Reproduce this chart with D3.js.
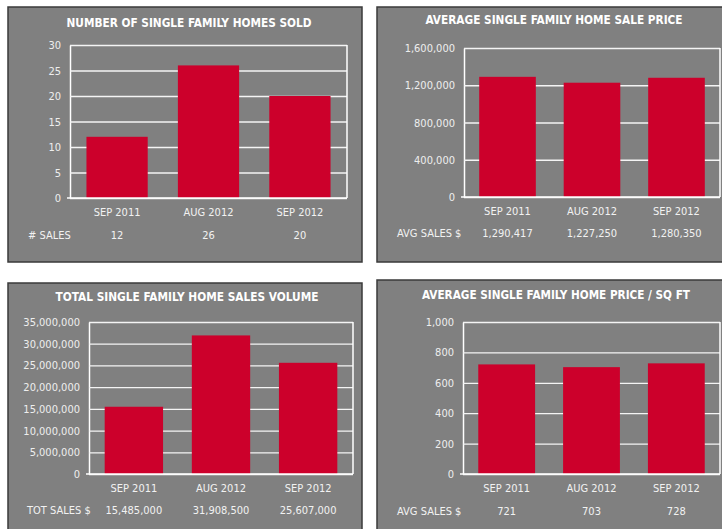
<!DOCTYPE html>
<html lang="en">
<head>
<meta charset="utf-8">
<title>Single family home sales</title>
<script src="https://cdn.jsdelivr.net/npm/d3@7"></script>
<style>
  body { margin: 0; background: #ffffff; }
  text { font-family: "DejaVu Sans Condensed", "DejaVu Sans", sans-serif; font-stretch: condensed; fill: #f2f2f2; }
  .title { font-weight: bold; font-size: 13px; fill: #ffffff; }
  .tick text { font-size: 11px; fill: #eeeeee; }
  .lbl { font-size: 11px; }
</style>
</head>
<body>
<script>
// months shown on every chart
var months = ["SEP 2011", "AUG 2012", "SEP 2012"];

// series values
var homesSold = [12, 26, 20];
var avgSalePrice = [1290417, 1227250, 1280350];
var totalVolume = [15485000, 31908500, 25607000];
var pricePerSqft = [721, 703, 728];

// y tick labels
var soldTicks = [0, 5, 10, 15, 20, 25, 30];
var priceTicks = [0, 400000, 800000, 1200000, 1600000];
var volumeTicks = [0, 5000000, 10000000, 15000000, 20000000, 25000000, 30000000, 35000000];
var sqftTicks = [0, 200, 400, 600, 800, 1000];

var titles = [
  "NUMBER OF SINGLE FAMILY HOMES SOLD",
  "AVERAGE SINGLE FAMILY HOME SALE PRICE",
  "TOTAL SINGLE FAMILY HOME SALES VOLUME",
  "AVERAGE SINGLE FAMILY HOME PRICE / SQ FT"
];
var rowLabels = ["# SALES", "AVG SALES $", "TOT SALES $", "AVG SALES $"];

var w = 722, h = 529;
var svg = d3.select("body").append("svg").attr("width", w).attr("height", h);
var fmt = d3.format(",");

// layout of the four boxes
var panels = [
  { box: [8, 7, 354, 255], plot: [70, 45, 347, 198], title: [189, 27, 245], cat: 216, val: 239, row: 28,
    values: homesSold, ticks: soldTicks },
  { box: [377, 7, 360, 255], plot: [464, 48, 720, 197], title: [554, 24, 257], cat: 215, val: 237, row: 397,
    values: avgSalePrice, ticks: priceTicks },
  { box: [8, 283, 354, 260], plot: [89, 322, 353, 474], title: [187, 301, 263], cat: 492, val: 514, row: 27,
    values: totalVolume, ticks: volumeTicks },
  { box: [377, 280, 360, 260], plot: [463, 322, 720, 474], title: [556, 299, 268], cat: 492, val: 515, row: 397,
    values: pricePerSqft, ticks: sqftTicks }
];

panels.forEach(function(p, i) {
  var g = svg.append("g");

  g.append("rect")
    .attr("x", p.box[0]).attr("y", p.box[1])
    .attr("width", p.box[2]).attr("height", p.box[3])
    .attr("fill", "#808080")
    .attr("stroke", "#3a3a3a")
    .attr("stroke-width", 1.5);

  g.append("text")
    .attr("class", "title")
    .attr("x", p.title[0]).attr("y", p.title[1])
    .attr("text-anchor", "middle")
    .attr("textLength", p.title[2])
    .attr("lengthAdjust", "spacingAndGlyphs")
    .text(titles[i]);

  var left = p.plot[0], top = p.plot[1], right = p.plot[2], bottom = p.plot[3];

  var x = d3.scaleBand().domain(months).range([left, right])
    .paddingInner(0.33).paddingOuter(0.18);
  var y = d3.scaleLinear().domain([0, d3.max(p.ticks)]).range([bottom, top]);

  // gridlines + tick labels
  var axis = g.append("g")
    .attr("transform", "translate(" + left + ",0)")
    .call(d3.axisLeft(y).tickValues(p.ticks).tickFormat(fmt)
      .tickSize(-(right - left)).tickSizeOuter(0).tickPadding(9));
  axis.selectAll("line").attr("stroke", "#f4f4f4").attr("stroke-width", 1.3);
  axis.select(".domain").attr("stroke", "#ffffff").attr("stroke-width", 1.5);
  axis.selectAll("text").attr("fill", "#eeeeee").style("font-size", "11px");

  // right side of the frame
  g.append("line")
    .attr("x1", right).attr("x2", right)
    .attr("y1", top).attr("y2", bottom)
    .attr("stroke", "#ffffff").attr("stroke-width", 1.5);

  g.selectAll("rect.bar")
    .data(p.values)
    .enter().append("rect")
    .attr("class", "bar")
    .attr("x", function(d, j) { return x(months[j]); })
    .attr("y", function(d) { return y(d); })
    .attr("width", x.bandwidth())
    .attr("height", function(d) { return bottom - y(d); })
    .attr("fill", "#cc002b");

  // baseline
  g.append("line")
    .attr("x1", left - 3).attr("x2", right)
    .attr("y1", bottom).attr("y2", bottom)
    .attr("stroke", "#ffffff").attr("stroke-width", 1.5);

  // month row
  g.selectAll("text.cat")
    .data(months)
    .enter().append("text")
    .attr("class", "lbl cat")
    .attr("x", function(d) { return x(d) + x.bandwidth() / 2; })
    .attr("y", p.cat)
    .attr("text-anchor", "middle")
    .text(function(d) { return d; });

  // value row
  g.selectAll("text.val")
    .data(p.values)
    .enter().append("text")
    .attr("class", "lbl val")
    .attr("x", function(d, j) { return x(months[j]) + x.bandwidth() / 2; })
    .attr("y", p.val)
    .attr("text-anchor", "middle")
    .text(function(d) { return fmt(d); });

  g.append("text")
    .attr("class", "lbl")
    .attr("x", p.row).attr("y", p.val)
    .text(rowLabels[i]);
});
</script>
</body>
</html>
